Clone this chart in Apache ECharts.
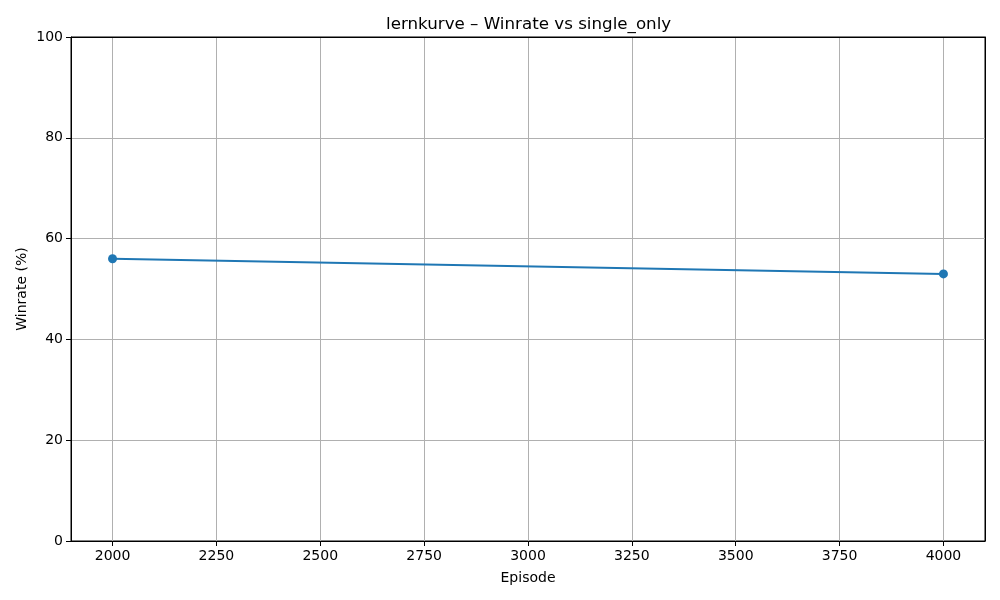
<!DOCTYPE html>
<html>
<head>
<meta charset="utf-8">
<script src="https://cdn.jsdelivr.net/npm/echarts@6/dist/echarts.min.js"></script>
<style>
  html, body { margin: 0; padding: 0; background: #fff; }
  #chart { width: 1000px; height: 600px; }
</style>
</head>
<body>
<div id="chart"></div>
<script>
// values
const episodes = [2000, 4000];
const winrate = [56, 53];
const xRange = [1900, 4100];
const yRange = [0, 100];

const font = 'DejaVu Sans';
const chart = echarts.init(document.getElementById('chart'), null, { renderer: 'canvas' });

// plain black spine for the top / right edges
const spine = {
  axisLine: { show: true, onZero: false, lineStyle: { color: '#000', width: 1 } },
  axisTick: { show: false },
  axisLabel: { show: false },
  splitLine: { show: false }
};

const option = {
  animation: false,
  backgroundColor: '#fff',
  textStyle: { fontFamily: font },
  title: {
    text: 'lernkurve – Winrate vs single_only',
    left: 381,
    top: 11,
    textStyle: { fontFamily: font, fontSize: 16.7, fontWeight: 'normal', color: '#000' }
  },
  grid: {
    left: 71, right: 15, top: 37, bottom: 59,
    show: true, borderColor: '#000', borderWidth: 1, backgroundColor: 'transparent'
  },
  xAxis: [{
    type: 'value',
    min: xRange[0],
    max: xRange[1],
    minInterval: 250,
    maxInterval: 250,
    name: 'Episode',
    nameLocation: 'middle',
    nameGap: 30,
    nameTextStyle: { fontFamily: font, fontSize: 14, color: '#000' },
    axisLine: { show: true, onZero: false, lineStyle: { color: '#000', width: 1 } },
    axisTick: { show: true, length: 5, lineStyle: { color: '#000' } },
    axisLabel: {
      margin: 8, fontFamily: font, fontSize: 14, color: '#000',
      showMinLabel: false, showMaxLabel: false,
      formatter: v => (v % 250 === 0 ? String(v) : '')
    },
    splitLine: { show: true, lineStyle: { color: '#b0b0b0', width: 1 } }
  }, Object.assign({ type: 'value', position: 'top', min: xRange[0], max: xRange[1] }, spine)],
  yAxis: [{
    type: 'value',
    min: yRange[0],
    max: yRange[1],
    interval: 20,
    name: 'Winrate (%)',
    nameLocation: 'middle',
    nameGap: 42,
    nameMoveOverlap: false,
    nameTextStyle: { fontFamily: font, fontSize: 14, color: '#000' },
    axisLine: { show: true, lineStyle: { color: '#000', width: 1 } },
    axisTick: { show: true, length: 5, lineStyle: { color: '#000' } },
    axisLabel: { margin: 8, fontFamily: font, fontSize: 14, color: '#000' },
    splitLine: { show: true, lineStyle: { color: '#b0b0b0', width: 1 } }
  }, Object.assign({ type: 'value', position: 'right', min: yRange[0], max: yRange[1] }, spine)],
  series: [{
    type: 'line',
    xAxisIndex: 0,
    yAxisIndex: 0,
    data: episodes.map((e, i) => [e, winrate[i]]),
    symbol: 'circle',
    symbolSize: 9,
    showAllSymbol: true,
    lineStyle: { color: '#1f77b4', width: 2 },
    itemStyle: { color: '#1f77b4' }
  }]
};

chart.setOption(option);
</script>
</body>
</html>
